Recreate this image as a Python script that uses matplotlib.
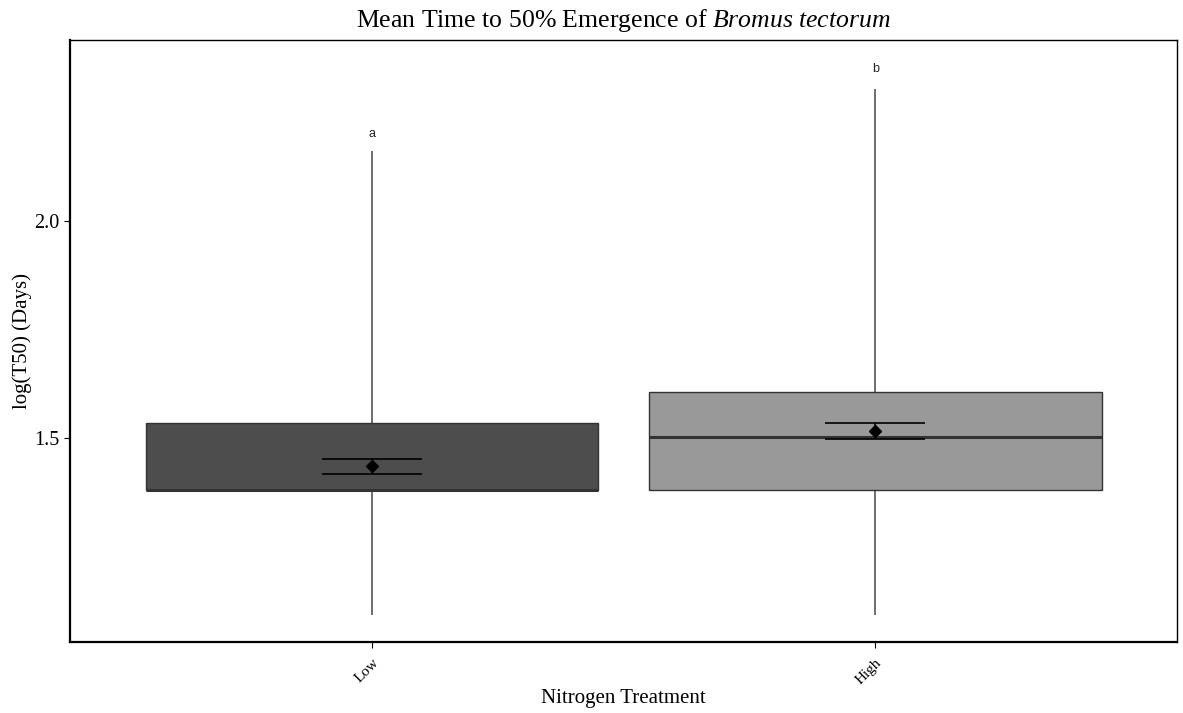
import numpy as np
import matplotlib.pyplot as plt

plt.rcParams['font.family'] = ['Liberation Serif', 'DejaVu Serif']
plt.rcParams['mathtext.fontset'] = 'custom'
plt.rcParams['mathtext.it'] = 'Liberation Serif:italic'
plt.rcParams['mathtext.rm'] = 'Liberation Serif'

# box summaries of log(T50) per nitrogen treatment
treatments = ['Low', 'High']
whislo = [1.094, 1.094]
q1 = [1.381, 1.381]
med = [1.381, 1.503]
q3 = [1.535, 1.606]
whishi = [2.159, 2.302]
means = [1.435, 1.516]
se_lo = [1.418, 1.497]
se_hi = [1.452, 1.535]
letters = ['a', 'b']
letter_y = [2.20, 2.35]
fills = ['#4d4d4d', '#999999']

fig = plt.figure(figsize=(11.83, 7.13), dpi=100)
ax = fig.add_axes([0.0592, 0.0996, 0.9358, 0.8444])

pos = np.arange(1, len(treatments) + 1)
stats = []
for i, t in enumerate(treatments):
    stats.append(dict(label=t, whislo=whislo[i], q1=q1[i], med=med[i],
                      q3=q3[i], whishi=whishi[i], fliers=[]))

# whiskers first so the boxes sit on top of them
for i, p in enumerate(pos):
    ax.plot([p, p], [whislo[i], whishi[i]], color='#6e6e6e', lw=1.4, zorder=1)

bp = ax.bxp(stats, positions=pos, widths=0.9, patch_artist=True,
            showcaps=False, whiskerprops=dict(visible=False),
            medianprops=dict(color='#333333', lw=2.2),
            boxprops=dict(edgecolor='#333333', lw=1.0), zorder=2)
for patch, c in zip(bp['boxes'], fills):
    patch.set_facecolor(c)

# mean with standard error bars
means = np.array(means)
yerr = [means - np.array(se_lo), np.array(se_hi) - means]
ax.errorbar(pos, means, yerr=yerr, fmt='D', color='black', ms=6,
            capsize=36, elinewidth=1.2, capthick=1.2, zorder=4)

for i, p in enumerate(pos):
    ax.text(p, letter_y[i], letters[i], ha='center', va='center',
            fontsize=9, family='Liberation Sans', color='#222222')

ax.set_xlim(0.4, 2.6)
ax.set_ylim(1.03, 2.417)
ax.set_yticks([1.5, 2.0])
ax.set_yticklabels(['1.5', '2.0'])
ax.set_xticks(pos)
ax.set_xticklabels(treatments, rotation=45, ha='right', rotation_mode='anchor',
                   fontsize=11)
ax.tick_params(axis='y', labelsize=14.5, length=4)
ax.tick_params(axis='x', length=4, pad=6)

for s in ax.spines.values():
    s.set_linewidth(1.0)
    s.set_color('black')
ax.spines['left'].set_linewidth(1.6)
ax.spines['bottom'].set_linewidth(1.6)

ax.set_xlabel('Nitrogen Treatment', fontsize=15, labelpad=2)
ax.set_ylabel('log(T50) (Days)', fontsize=15, labelpad=2)
ax.set_title('Mean Time to 50% Emergence of $\\it{Bromus\\ tectorum}$',
             fontsize=18.5, pad=9)

fig.savefig('out.png', dpi=100)
